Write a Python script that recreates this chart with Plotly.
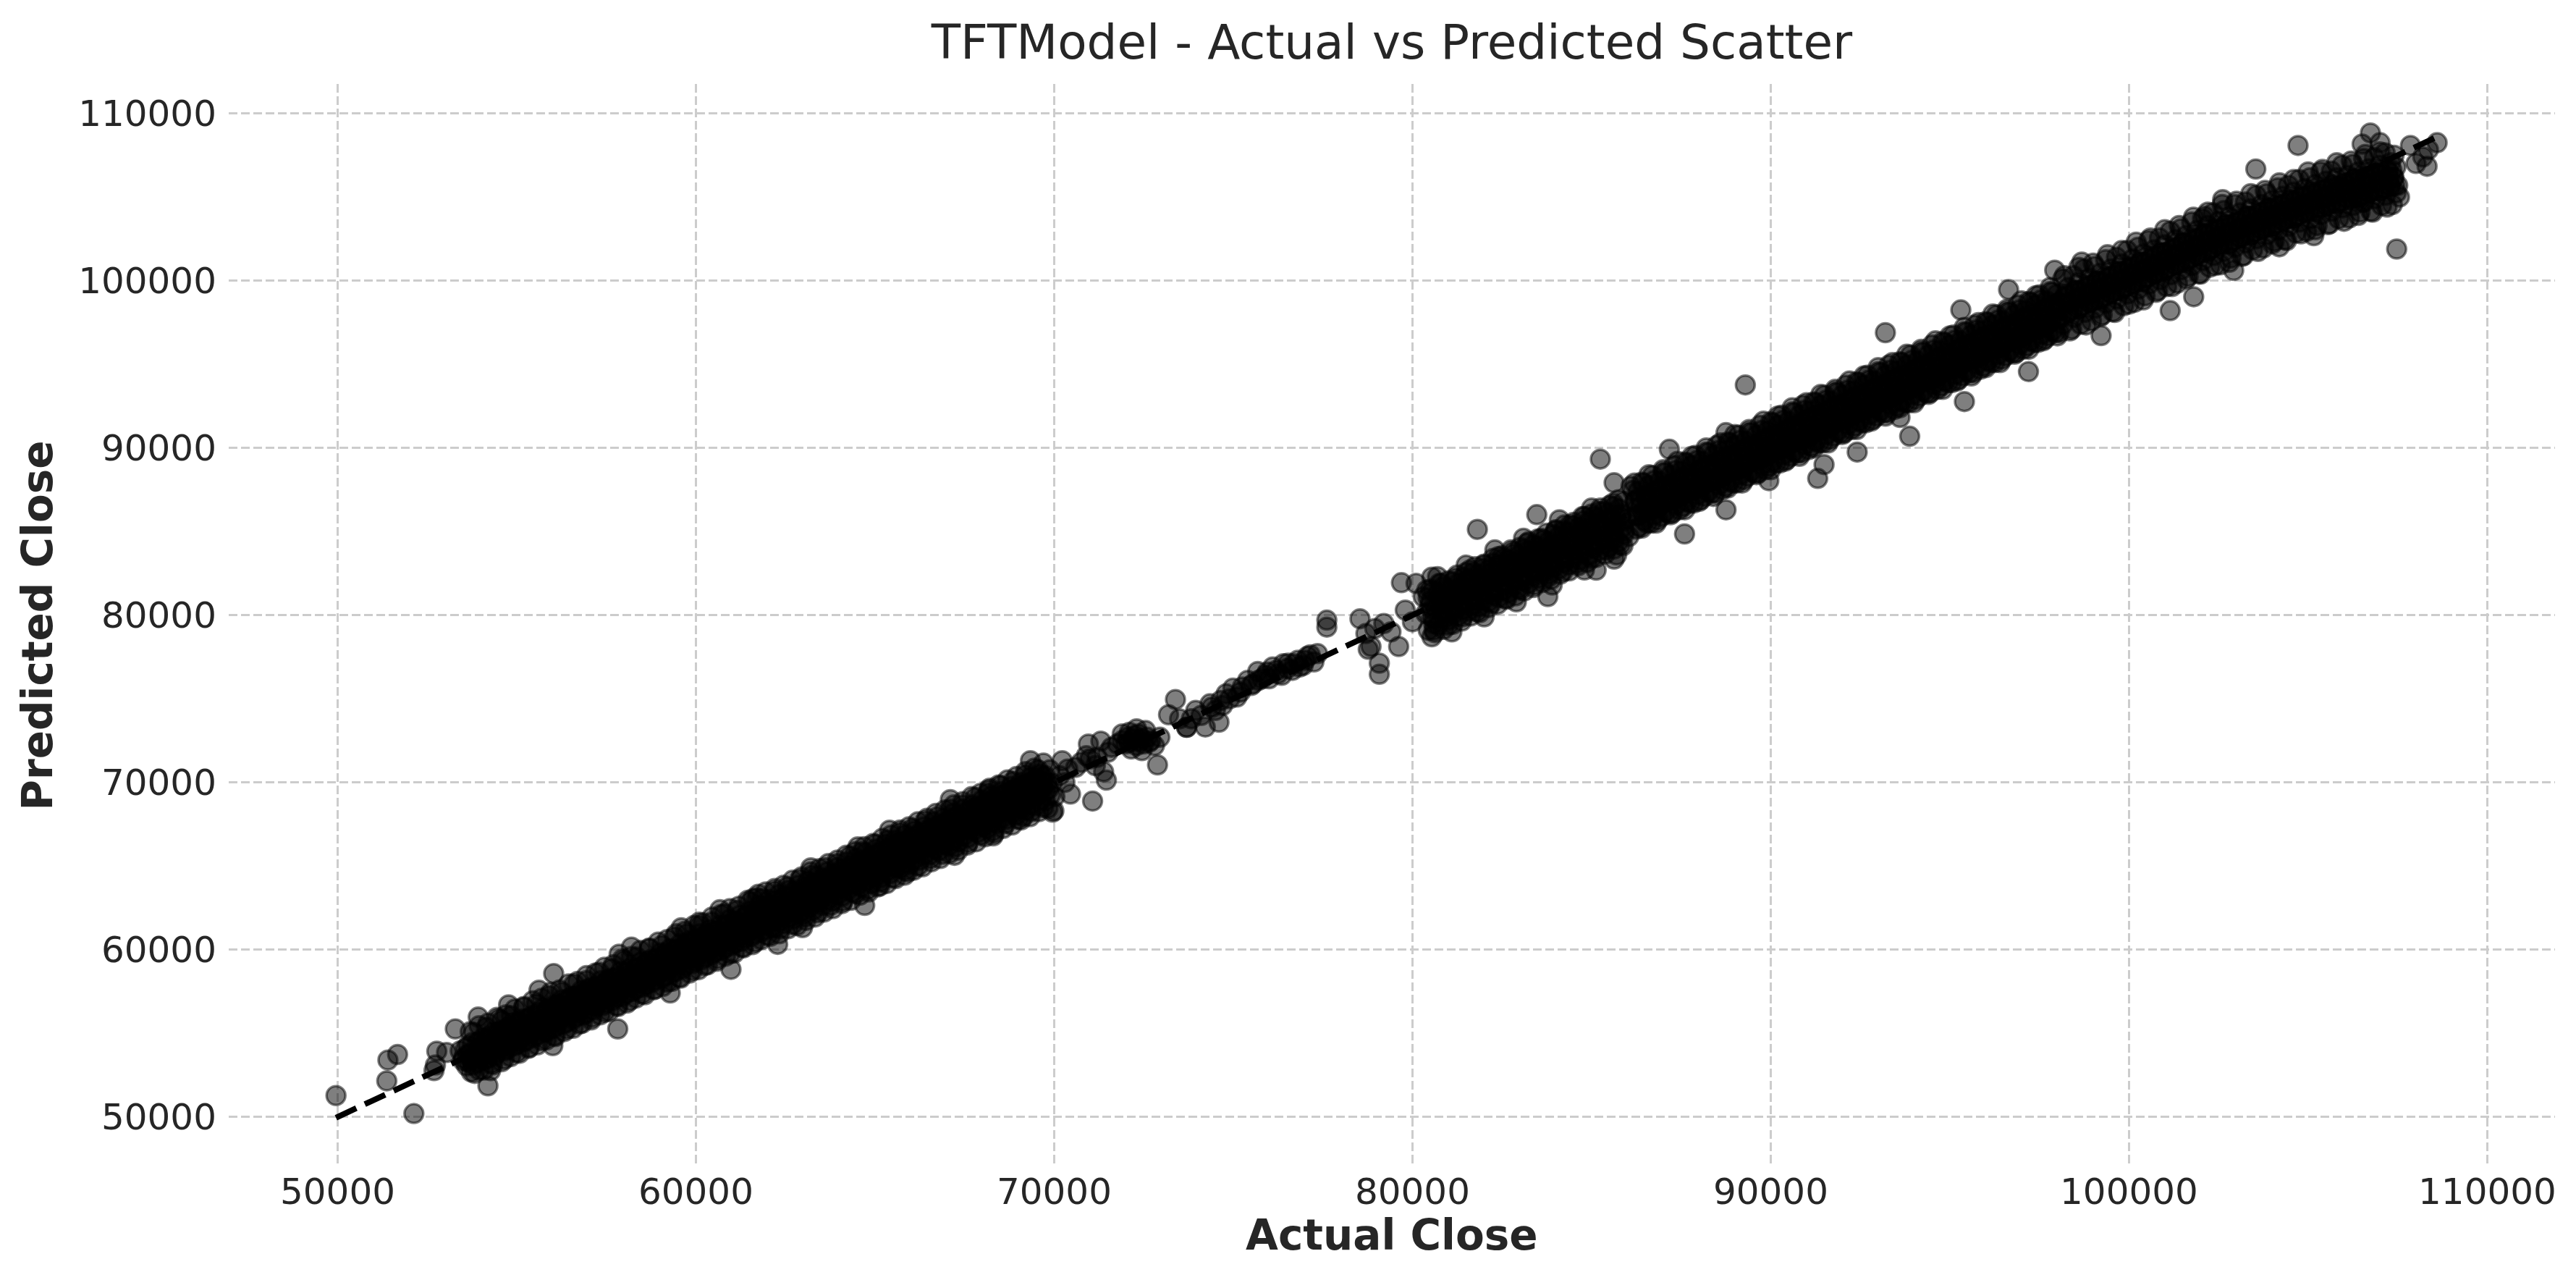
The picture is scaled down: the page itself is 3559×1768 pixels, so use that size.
import plotly.graph_objects as go

# values (Actual Close vs Predicted Close)

# dense band, 53k - 62k
actual_a = [
    53420, 53510, 53600, 53760, 53840, 53910, 54050, 54120, 54190,
    54330, 54400, 54470, 54600, 54680, 54740, 54880, 54950, 55020,
    55150, 55220, 55290, 55420, 55490, 55560, 55700, 55770, 55840,
    55980, 56050, 56110, 56250, 56320, 56390, 56530, 56600, 56660,
    56800, 56880, 56940, 57080, 57150, 57220, 57350, 57430, 57490,
    57630, 57700, 57770, 57900, 57980, 58040, 58180, 58260, 58320,
    58460, 58530, 58600, 58730, 58810, 58870, 59010, 59090, 59150,
    59280, 59360, 59430, 59560, 59640, 59700, 59840, 59910, 59980,
    60110, 60190, 60260, 60390, 60470, 60530, 60670, 60740, 60810,
    60940, 61020, 61090, 61220, 61300, 61360, 61500, 61570, 61640,
    61770, 61850, 61910]
predicted_a = [
    53950, 53500, 53050, 54450, 53700, 53250, 54700, 54150, 53500,
    55050, 54300, 53850, 55200, 54750, 54050, 55600, 54900, 54350,
    55850, 55300, 54600, 56050, 55450, 54900, 56450, 55800, 55100,
    56650, 56000, 55450, 57000, 56400, 55650, 57200, 56550, 56000,
    57550, 56950, 56200, 57750, 57100, 56600, 58150, 57500, 56800,
    58300, 57700, 57150, 58700, 58050, 57350, 58900, 58250, 57650,
    59250, 58600, 57900, 59400, 58850, 58200, 59800, 59100, 58450,
    60050, 59450, 58700, 60350, 59650, 59050, 60550, 60000, 59300,
    60950, 60250, 59550, 61200, 60550, 59850, 61450, 60850, 60100,
    61800, 61100, 60400, 62050, 61400, 60700, 62300, 61650, 60950,
    62650, 61950, 61200]
actual_a2 = [
    53640, 53690, 53740, 53780, 53950, 54000, 54050, 54090,
    54240, 54290, 54340, 54380, 54520, 54570, 54620, 54660,
    54790, 54840, 54890, 54930, 55060, 55110, 55160, 55200,
    55340, 55390, 55440, 55480, 55610, 55660, 55710, 55750,
    55890, 55940, 55990, 56030, 56160, 56210, 56260, 56300,
    56440, 56490, 56540, 56580, 56710, 56760, 56810, 56850,
    56990, 57040, 57090, 57130, 57260, 57310, 57360, 57400,
    57540, 57590, 57640, 57680, 57810, 57860, 57910, 57950,
    58090, 58140, 58190, 58230, 58370, 58420, 58470, 58510,
    58640, 58690, 58740, 58780, 58920, 58970, 59020, 59060,
    59190, 59240, 59290, 59330, 59470, 59520, 59570, 59610,
    59750, 59800, 59850, 59890, 60020, 60070, 60120, 60160,
    60300, 60350, 60400, 60440, 60580, 60630, 60680, 60720,
    60850, 60900, 60950, 60990, 61130, 61180, 61230, 61270,
    61410, 61460, 61510, 61550, 61680, 61730, 61780, 61820,
    61960, 62010, 62060, 62100]
predicted_a2 = [
    54250, 53800, 53450, 53100, 54500, 54150, 53750, 53400,
    54850, 54400, 54100, 53650, 55100, 54750, 54350, 53950,
    55400, 54950, 54600, 54250, 55700, 55250, 54850, 54500,
    55900, 55550, 55200, 54750, 56250, 55800, 55450, 55050,
    56500, 56100, 55700, 55300, 56750, 56350, 56000, 55550,
    57050, 56650, 56250, 55850, 57300, 56900, 56550, 56100,
    57650, 57200, 56800, 56400, 57850, 57450, 57100, 56650,
    58200, 57750, 57350, 56950, 58400, 58000, 57650, 57200,
    58700, 58300, 57900, 57500, 58950, 58550, 58200, 57750,
    59300, 58850, 58450, 58050, 59500, 59100, 58750, 58300,
    59850, 59400, 59000, 58600, 60050, 59650, 59300, 58850,
    60400, 59950, 59550, 59150, 60600, 60200, 59850, 59400,
    60950, 60500, 60100, 59700, 61150, 60750, 60400, 59950,
    61500, 61050, 60650, 60250, 61700, 61300, 60950, 60500,
    62050, 61600, 61200, 60800, 62250, 61850, 61500, 61050,
    62600, 62150, 61750, 61350]
# ragged upper / lower edge of the same stretch
actual_a3 = [
    53800, 54150, 54500, 54850, 55200, 55550, 55900, 56250, 56600, 56950,
    57300, 57650, 58000, 58350, 58700, 59050, 59400, 59750, 60100, 60450,
    60800, 61150, 61500, 61850,
    53950, 54300, 54650, 55000, 55350, 55700, 56050, 56400, 56750, 57100,
    57450, 57800, 58150, 58500, 58850, 59200, 59550, 59900, 60250, 60600,
    60950, 61300, 61650, 62000]
predicted_a3 = [
    55050, 55350, 55850, 56050, 56550, 56750, 57250, 57450, 57950, 58150,
    58650, 58850, 59350, 59550, 60050, 60250, 60750, 60950, 61450, 61650,
    62150, 62350, 62850, 63050,
    52800, 53200, 53450, 53850, 54150, 54550, 54850, 55250, 55550, 55950,
    56250, 56650, 56950, 57350, 57650, 58050, 58350, 58750, 59050, 59450,
    59750, 60150, 60450, 60850]
# middle of the same stretch
actual_a4 = [
    53570, 53610, 53650, 53900, 53940, 53980, 54190, 54230, 54270,
    54460, 54500, 54540, 54740, 54780, 54820, 55010, 55050, 55090,
    55290, 55330, 55370, 55560, 55600, 55640, 55840, 55880, 55920,
    56110, 56150, 56190, 56390, 56430, 56470, 56660, 56700, 56740,
    56940, 56980, 57020, 57210, 57250, 57290, 57490, 57530, 57570,
    57760, 57800, 57840, 58040, 58080, 58120, 58310, 58350, 58390,
    58590, 58630, 58670, 58860, 58900, 58940, 59140, 59180, 59220,
    59410, 59450, 59490, 59690, 59730, 59770, 59960, 60000, 60040,
    60240, 60280, 60320, 60510, 60550, 60590, 60790, 60830, 60870,
    61060, 61100, 61140, 61340, 61380, 61420, 61610, 61650, 61690,
    61890, 61930, 61970]
predicted_a4 = [
    54100, 53700, 53300, 54450, 54050, 53600, 54700, 54350, 53900,
    55050, 54600, 54150, 55300, 54850, 54450, 55550, 55150, 54700,
    55850, 55400, 55000, 56100, 55700, 55250, 56400, 55950, 55550,
    56650, 56250, 55800, 56950, 56500, 56100, 57200, 56800, 56350,
    57500, 57050, 56650, 57750, 57350, 56900, 58050, 57600, 57200,
    58300, 57900, 57450, 58600, 58150, 57750, 58850, 58450, 58000,
    59150, 58700, 58300, 59400, 59000, 58550, 59700, 59250, 58850,
    59950, 59550, 59100, 60250, 59800, 59400, 60500, 60100, 59650,
    60800, 60350, 59950, 61050, 60650, 60200, 61350, 60900, 60500,
    61600, 61200, 60750, 61900, 61450, 61050, 62150, 61750, 61300,
    62450, 62000, 61600]
# shoulders of the same stretch (upper row, then lower row)
actual_a5 = [
    53700, 53950, 54200, 54450, 54700, 54950, 55200, 55450, 55700, 55950,
    56200, 56450, 56700, 56950, 57200, 57450, 57700, 57950, 58200, 58450,
    58700, 58950, 59200, 59450, 59700, 59950, 60200, 60450, 60700, 60950,
    61200, 61450, 61700, 61950,
    53825, 54075, 54325, 54575, 54825, 55075, 55325, 55575, 55825, 56075,
    56325, 56575, 56825, 57075, 57325, 57575, 57825, 58075, 58325, 58575,
    58825, 59075, 59325, 59575, 59825, 60075, 60325, 60575, 60825, 61075,
    61325, 61575, 61825, 62075]
predicted_a5 = [
    55100, 55450, 55600, 55950, 56100, 56450, 56600, 56950, 57100, 57450,
    57600, 57950, 58100, 58450, 58600, 58950, 59100, 59450, 59600, 59950,
    60100, 60450, 60600, 60950, 61100, 61450, 61600, 61950, 62100, 62450,
    62600, 62950, 63100, 63450,
    52600, 52800, 53100, 53300, 53600, 53800, 54100, 54300, 54600, 54800,
    55100, 55300, 55600, 55800, 56100, 56300, 56600, 56800, 57100, 57300,
    57600, 57800, 58100, 58300, 58600, 58800, 59100, 59300, 59600, 59800,
    60100, 60300, 60600, 60800]

# dense band, 62k - 70k
actual_b = [
    62050, 62120, 62190, 62320, 62390, 62460, 62590, 62660, 62730,
    62860, 62930, 63000, 63130, 63200, 63270, 63400, 63470, 63540,
    63670, 63740, 63810, 63940, 64010, 64080, 64210, 64280, 64350,
    64480, 64550, 64620, 64750, 64820, 64890, 65020, 65090, 65160,
    65290, 65360, 65430, 65560, 65630, 65700, 65830, 65900, 65970,
    66100, 66170, 66240, 66370, 66440, 66510, 66640, 66710, 66780,
    66910, 66980, 67050, 67180, 67250, 67320, 67450, 67520, 67590,
    67720, 67790, 67860, 67990, 68060, 68130, 68260, 68330, 68400,
    68530, 68600, 68670, 68800, 68870, 68940, 69070, 69140, 69210,
    69340, 69410, 69480, 69610, 69680, 69750, 69880, 69950, 70020]
predicted_b = [
    63000, 62200, 61300, 63300, 62450, 61550, 63550, 62750, 61850,
    63850, 62950, 62100, 64100, 63300, 62350, 64400, 63550, 62650,
    64650, 63800, 62900, 64900, 64150, 63200, 65250, 64350, 63450,
    65450, 64700, 63750, 65800, 64900, 63950, 66000, 65250, 64300,
    66300, 65450, 64550, 66550, 65750, 64850, 66850, 66000, 65100,
    67100, 66300, 65350, 67350, 66500, 65650, 67650, 66850, 65900,
    67850, 67050, 66200, 68150, 67350, 66450, 68400, 67550, 66700,
    68650, 67850, 67000, 68950, 68100, 67250, 69200, 68350, 67550,
    69450, 68650, 67800, 69750, 68900, 68050, 70000, 69200, 68350,
    70300, 69450, 68600, 70500, 69700, 68900, 70750, 69950, 69150]
actual_b2 = [
    62185, 62235, 62285, 62335, 62455, 62505, 62555, 62605,
    62725, 62775, 62825, 62875, 62995, 63045, 63095, 63145,
    63265, 63315, 63365, 63415, 63535, 63585, 63635, 63685,
    63805, 63855, 63905, 63955, 64075, 64125, 64175, 64225,
    64345, 64395, 64445, 64495, 64615, 64665, 64715, 64765,
    64885, 64935, 64985, 65035, 65155, 65205, 65255, 65305,
    65425, 65475, 65525, 65575, 65695, 65745, 65795, 65845,
    65965, 66015, 66065, 66115, 66235, 66285, 66335, 66385,
    66505, 66555, 66605, 66655, 66775, 66825, 66875, 66925,
    67045, 67095, 67145, 67195, 67315, 67365, 67415, 67465,
    67585, 67635, 67685, 67735, 67855, 67905, 67955, 68005,
    68125, 68175, 68225, 68275, 68395, 68445, 68495, 68545,
    68665, 68715, 68765, 68815, 68935, 68985, 69035, 69085,
    69205, 69255, 69305, 69355, 69475, 69525, 69575, 69625,
    69745, 69795, 69845, 69895]
predicted_b2 = [
    62900, 62500, 62050, 61700, 63150, 62750, 62300, 61950,
    63450, 63000, 62600, 62200, 63700, 63300, 62850, 62500,
    63950, 63550, 63100, 62800, 64250, 63850, 63400, 63000,
    64500, 64100, 63650, 63300, 64800, 64350, 63950, 63550,
    65050, 64650, 64200, 63850, 65300, 64900, 64450, 64150,
    65600, 65200, 64750, 64400, 65850, 65450, 65000, 64650,
    66150, 65700, 65300, 64900, 66400, 66000, 65550, 65200,
    66650, 66250, 65800, 65450, 66950, 66550, 66100, 65700,
    67200, 66800, 66350, 66000, 67450, 67050, 66650, 66300,
    67750, 67350, 66900, 66550, 68000, 67600, 67150, 66800,
    68300, 67850, 67450, 67100, 68550, 68150, 67700, 67350,
    68800, 68400, 67950, 67650, 69100, 68700, 68250, 67900,
    69350, 68950, 68500, 68150, 69650, 69200, 68800, 68450,
    69900, 69500, 69050, 68700, 70150, 69750, 69300, 68950,
    70400, 70000, 69600, 69250]
actual_b3 = [
    62200, 62550, 62900, 63250, 63600, 63950, 64300, 64650, 65000, 65350, 65700,
    66050, 66400, 66750, 67100, 67450, 67800, 68150, 68500, 68850, 69200, 69550,
    62350, 62700, 63050, 63400, 63750, 64100, 64450, 64800, 65150, 65500, 65850,
    66200, 66550, 66900, 67250, 67600, 67950, 68300, 68650, 69000, 69350, 69700]
predicted_b3 = [
    63500, 63750, 64200, 64450, 64900, 65150, 65600, 65850, 66300, 66550, 67000,
    67250, 67700, 67950, 68400, 68650, 69100, 69350, 69800, 70050, 70450, 70750,
    61250, 61500, 61950, 62200, 62650, 62900, 63350, 63600, 64050, 64300, 64750,
    65000, 65450, 65700, 66150, 66400, 66850, 67100, 67550, 67800, 68250, 68500]
actual_b4 = [
    62120, 62160, 62200, 62390, 62430, 62470, 62660, 62700, 62740,
    62930, 62970, 63010, 63200, 63240, 63280, 63470, 63510, 63550,
    63740, 63780, 63820, 64010, 64050, 64090, 64280, 64320, 64360,
    64550, 64590, 64630, 64820, 64860, 64900, 65090, 65130, 65170,
    65360, 65400, 65440, 65630, 65670, 65710, 65900, 65940, 65980,
    66170, 66210, 66250, 66440, 66480, 66520, 66710, 66750, 66790,
    66980, 67020, 67060, 67250, 67290, 67330, 67520, 67560, 67600,
    67790, 67830, 67870, 68060, 68100, 68140, 68330, 68370, 68410,
    68600, 68640, 68680, 68870, 68910, 68950, 69140, 69180, 69220,
    69410, 69450, 69490, 69680, 69720, 69760]
predicted_b4 = [
    62650, 62250, 61750, 62950, 62500, 62050, 63200, 62800, 62300,
    63500, 63050, 62600, 63750, 63350, 62850, 64050, 63600, 63150,
    64300, 63900, 63400, 64600, 64150, 63700, 64850, 64450, 63950,
    65150, 64700, 64250, 65400, 65000, 64500, 65700, 65250, 64800,
    65950, 65550, 65050, 66250, 65800, 65350, 66500, 66100, 65600,
    66800, 66350, 65900, 67050, 66650, 66150, 67350, 66900, 66450,
    67600, 67200, 66700, 67900, 67450, 67000, 68150, 67750, 67250,
    68450, 68000, 67550, 68700, 68300, 67800, 69000, 68550, 68100,
    69250, 68850, 68350, 69550, 69100, 68650, 69800, 69400, 68900,
    70100, 69650, 69200, 70350, 69950, 69450]
actual_b5 = [
    62200, 62450, 62700, 62950, 63200, 63450, 63700, 63950, 64200, 64450,
    64700, 64950, 65200, 65450, 65700, 65950, 66200, 66450, 66700, 66950,
    67200, 67450, 67700, 67950, 68200, 68450, 68700, 68950, 69200, 69450,
    69700,
    62325, 62575, 62825, 63075, 63325, 63575, 63825, 64075, 64325, 64575,
    64825, 65075, 65325, 65575, 65825, 66075, 66325, 66575, 66825, 67075,
    67325, 67575, 67825, 68075, 68325, 68575, 68825, 69075, 69325, 69575,
    69825]
predicted_b5 = [
    63650, 63850, 64150, 64350, 64650, 64850, 65150, 65350, 65650, 65850,
    66150, 66350, 66650, 66850, 67150, 67350, 67650, 67850, 68150, 68350,
    68650, 68850, 69150, 69350, 69650, 69850, 70150, 70350, 70650, 70850,
    71150,
    60950, 61250, 61450, 61750, 61950, 62250, 62450, 62750, 62950, 63250,
    63450, 63750, 63950, 64250, 64450, 64750, 64950, 65250, 65450, 65750,
    65950, 66250, 66450, 66750, 66950, 67250, 67450, 67750, 67950, 68250,
    68450]

# sparse clusters, 70k - 73.7k
actual_c = [
    69992, 70224, 70378, 70455, 70150, 70300, 70600, 70750, 70900,
    70956, 71072, 71303, 71380, 71457, 71200, 71600, 71766, 71900,
    72000, 72150, 72250, 72380, 72450, 72550, 72700, 72800, 72884,
    72950, 73192, 73385, 73693, 69337, 71900, 72050, 72100, 72200,
    72300, 72350, 72450, 72500, 72600, 72650, 72100, 72300, 71000,
    71150, 71500]
predicted_c = [
    68303, 71298, 70799, 69301, 70400, 70000, 70900, 71200, 71600,
    72296, 68885, 72463, 70632, 70133, 71500, 72100, 72300, 72900,
    72300, 72000, 72800, 72463, 71900, 73100, 72500, 72200, 71048,
    72700, 74044, 74959, 73295, 71298, 72500, 72700, 72400, 72600,
    72200, 72900, 72600, 72300, 72700, 72400, 73000, 73200, 71400,
    71000, 71800]

# thin trail, 73.5k - 77.6k
actual_d = [
    73500, 73700, 73832, 73950, 74100, 74218, 74350, 74500, 74600,
    74650, 74800, 74989, 75100, 75250, 75400, 75550, 75682, 75800,
    75950, 76100, 76250, 76400, 76530, 76650, 76800, 76950, 77070,
    77147, 77250, 77350, 77610, 77610, 75500, 75700, 75900, 76000,
    76200, 76350, 76500, 76700, 76850, 77000, 74400, 74700, 74900,
    75200]
predicted_d = [
    73800, 73300, 73808, 74300, 74000, 73310, 74700, 74300, 73600,
    74900, 75300, 75634, 75100, 75700, 76100, 75900, 76630, 76200,
    76600, 76900, 76500, 77100, 77128, 76700, 77300, 77000, 77543,
    77626, 77200, 77700, 79286, 79701, 75800, 76100, 76400, 76200,
    76700, 76400, 76800, 77100, 76900, 77300, 74500, 74600, 75000,
    75400]

# restart of the band, 78.5k - 86k
actual_e = [
    78535, 78843, 79075, 79075, 78766, 78700, 78950, 79200, 79400,
    79615, 79692, 79800, 80100, 80540, 80540, 80000,
    80300, 80370, 80440, 80580, 80650, 80720, 80860, 80930, 81000,
    81140, 81210, 81280, 81420, 81490, 81560, 81700, 81770, 81840,
    81980, 82050, 82120, 82260, 82330, 82400, 82540, 82610, 82680,
    82820, 82890, 82960, 83100, 83170, 83240, 83380, 83450, 83520,
    83660, 83730, 83800, 83940, 84010, 84080, 84220, 84290, 84360,
    84500, 84570, 84640, 84780, 84850, 84920, 85060, 85130, 85200,
    85340, 85410, 85480, 85620, 85690, 85760, 85900, 85970, 86040]
predicted_e = [
    79784, 78124, 77128, 76464, 77958, 78900, 79200, 79500, 79000,
    78124, 81942, 80300, 81900, 82274, 78705, 79600,
    81100, 80100, 79100, 81450, 80400, 79400, 81700, 80650, 79700,
    82000, 80950, 79950, 82250, 81250, 80250, 82550, 81500, 80500,
    82800, 81800, 80800, 83100, 82100, 81050, 83400, 82350, 81350,
    83650, 82650, 81600, 83950, 82900, 81900, 84200, 83200, 82200,
    84500, 83450, 82450, 84800, 83750, 82750, 85050, 84050, 83000,
    85350, 84300, 83300, 85650, 84600, 83550, 85900, 84850, 83850,
    86200, 85150, 84100, 86500, 85450, 84400, 86800, 85750, 84700]
actual_e2 = [
    80440, 80490, 80540, 80590, 80720, 80770, 80820, 80870,
    81000, 81050, 81100, 81150, 81280, 81330, 81380, 81430,
    81560, 81610, 81660, 81710, 81840, 81890, 81940, 81990,
    82120, 82170, 82220, 82270, 82400, 82450, 82500, 82550,
    82680, 82730, 82780, 82830, 82960, 83010, 83060, 83110,
    83240, 83290, 83340, 83390, 83520, 83570, 83620, 83670,
    83800, 83850, 83900, 83950, 84080, 84130, 84180, 84230,
    84360, 84410, 84460, 84510, 84640, 84690, 84740, 84790,
    84920, 84970, 85020, 85070, 85200, 85250, 85300, 85350,
    85480, 85530, 85580, 85630, 85760, 85810, 85860, 85910]
predicted_e2 = [
    81050, 80600, 79900, 79500, 81300, 80850, 80250, 79800,
    81600, 81150, 80500, 80100, 81900, 81400, 80800, 80350,
    82150, 81700, 81050, 80650, 82450, 82000, 81350, 80950,
    82700, 82250, 81600, 81200, 83000, 82550, 81900, 81500,
    83300, 82800, 82200, 81800, 83550, 83100, 82450, 82050,
    83850, 83400, 82750, 82350, 84100, 83650, 83000, 82600,
    84400, 83950, 83300, 82900, 84700, 84250, 83600, 83150,
    84950, 84500, 83850, 83450, 85250, 84800, 84150, 83750,
    85550, 85050, 84400, 84000, 85800, 85350, 84700, 84300,
    86100, 85650, 85000, 84550, 86350, 85900, 85250, 84850]
actual_e3 = [
    80400, 80800, 81200, 81600, 82000, 82400, 82800, 83200, 83600, 84000,
    84400, 84800, 85200, 85600,
    80600, 81000, 81400, 81800, 82200, 82600, 83000, 83400, 83800, 84200,
    84600, 85000, 85400, 85800,
    80700, 81500, 82300, 83100, 84100, 85000,
    81100, 82000, 82900, 83900, 84800, 85700]
predicted_e3 = [
    81500, 81900, 82200, 82700, 83000, 83500, 83800, 84300, 84600, 85100,
    85400, 85900, 86200, 86700,
    79100, 79400, 79900, 80200, 80700, 81000, 81500, 81800, 82300, 82600,
    83100, 83400, 83900, 84200,
    82300, 83000, 83900, 84600, 85700, 86400,
    79000, 79900, 80800, 81800, 82700, 83600]
actual_e4 = [
    80510, 80550, 80590, 80790, 80830, 80870, 81070, 81110, 81150,
    81350, 81390, 81430, 81630, 81670, 81710, 81910, 81950, 81990,
    82190, 82230, 82270, 82470, 82510, 82550, 82750, 82790, 82830,
    83030, 83070, 83110, 83310, 83350, 83390, 83590, 83630, 83670,
    83870, 83910, 83950, 84150, 84190, 84230, 84430, 84470, 84510,
    84710, 84750, 84790, 84990, 85030, 85070, 85270, 85310, 85350,
    85550, 85590, 85630, 85830, 85870, 85910]
predicted_e4 = [
    80850, 80350, 79800, 81100, 80650, 80100, 81400, 80900, 80350,
    81650, 81200, 80650, 81950, 81450, 80900, 82200, 81750, 81200,
    82500, 82000, 81450, 82750, 82300, 81750, 83050, 82550, 82000,
    83300, 82850, 82300, 83600, 83100, 82550, 83850, 83400, 82850,
    84150, 83650, 83100, 84400, 83950, 83400, 84700, 84200, 83650,
    84950, 84500, 83950, 85250, 84750, 84200, 85500, 85050, 84500,
    85800, 85300, 84750, 86050, 85600, 85050]
actual_e5 = [
    80500, 80750, 81000, 81250, 81500, 81750, 82000, 82250, 82500, 82750,
    83000, 83250, 83500, 83750, 84000, 84250, 84500, 84750, 85000, 85250,
    85500, 85750,
    80625, 80875, 81125, 81375, 81625, 81875, 82125, 82375, 82625, 82875,
    83125, 83375, 83625, 83875, 84125, 84375, 84625, 84875, 85125, 85375,
    85625, 85875]
predicted_e5 = [
    81550, 81900, 82050, 82400, 82550, 82900, 83050, 83400, 83550, 83900,
    84050, 84400, 84550, 84900, 85050, 85400, 85550, 85900, 86050, 86400,
    86550, 86900,
    78950, 79150, 79450, 79650, 79950, 80150, 80450, 80650, 80950, 81150,
    81450, 81650, 81950, 82150, 82450, 82650, 82950, 83150, 83450, 83650,
    83950, 84150]

# dense band, 86k - 98k
actual_f = [
    86150, 86210, 86280, 86350, 86450, 86520, 86590, 86650,
    86750, 86800, 86880, 86950, 87050, 87110, 87180, 87250,
    87350, 87400, 87480, 87550, 87650, 87720, 87780, 87850,
    87950, 88010, 88080, 88150, 88250, 88300, 88380, 88450,
    88550, 88620, 88690, 88750, 88850, 88900, 88980, 89050,
    89150, 89210, 89280, 89350, 89450, 89520, 89580, 89650,
    89750, 89800, 89880, 89950, 90050, 90120, 90180, 90250,
    90350, 90400, 90480, 90550, 90650, 90710, 90780, 90850,
    90950, 91000, 91080, 91150, 91250, 91320, 91380, 91450,
    91550, 91600, 91680, 91750, 91850, 91910, 91980, 92050,
    92150, 92200, 92280, 92350, 92450, 92520, 92580, 92650,
    92750, 92800, 92880, 92950, 93050, 93110, 93180, 93250,
    93350, 93400, 93480, 93550, 93650, 93720, 93780, 93850,
    93950, 94000, 94080, 94150, 94250, 94310, 94380, 94450,
    94550, 94600, 94680, 94750, 94850, 94920, 94980, 95050,
    95150, 95200, 95280, 95350, 95450, 95510, 95580, 95650,
    95750, 95800, 95880, 95950, 96050, 96120, 96180, 96250,
    96350, 96400, 96480, 96550, 96650, 96710, 96780, 96850,
    96950, 97000, 97080, 97150, 97250, 97320, 97380, 97450,
    97550, 97600, 97680, 97750, 97850, 97910, 97980, 98050]
predicted_f = [
    87450, 86800, 85950, 85300, 87900, 87050, 86350, 85500,
    88050, 87400, 86500, 85900, 88500, 87650, 86950, 86100,
    88650, 88000, 87150, 86500, 89100, 88200, 87500, 86700,
    89250, 88650, 87750, 87100, 89700, 88800, 88100, 87300,
    89850, 89200, 88350, 87700, 90300, 89400, 88700, 87900,
    90450, 89850, 88900, 88300, 90900, 90000, 89350, 88500,
    91050, 90400, 89500, 88900, 91500, 90650, 89900, 89100,
    91650, 91000, 90150, 89500, 92100, 91200, 90500, 89700,
    92250, 91650, 90700, 90100, 92700, 91800, 91150, 90300,
    92850, 92200, 91300, 90700, 93300, 92450, 91700, 90900,
    93450, 92800, 91950, 91300, 93900, 93000, 92300, 91500,
    94050, 93450, 92500, 91900, 94500, 93600, 92950, 92100,
    94650, 94000, 93100, 92500, 95100, 94250, 93500, 92700,
    95250, 94600, 93750, 93100, 95700, 94800, 94100, 93300,
    95850, 95250, 94300, 93700, 96300, 95400, 94750, 93900,
    96450, 95800, 94900, 94300, 96900, 96000, 95350, 94500,
    97050, 96400, 95550, 94900, 97500, 96600, 95950, 95100,
    97650, 97050, 96100, 95500, 98100, 97200, 96550, 95700,
    98250, 97650, 96700, 96100, 98700, 97800, 97150, 96300,
    98850, 98200, 97300, 96700, 99300, 98400, 97750, 96900]
actual_f2 = [
    86300, 86340, 86380, 86420, 86460, 86600, 86640, 86680, 86720, 86760,
    86900, 86940, 86980, 87020, 87060, 87200, 87240, 87280, 87320, 87360,
    87500, 87540, 87580, 87620, 87660, 87800, 87840, 87880, 87920, 87960,
    88100, 88140, 88180, 88220, 88260, 88400, 88440, 88480, 88520, 88560,
    88700, 88740, 88780, 88820, 88860, 89000, 89040, 89080, 89120, 89160,
    89300, 89340, 89380, 89420, 89460, 89600, 89640, 89680, 89720, 89760,
    89900, 89940, 89980, 90020, 90060, 90200, 90240, 90280, 90320, 90360,
    90500, 90540, 90580, 90620, 90660, 90800, 90840, 90880, 90920, 90960,
    91100, 91140, 91180, 91220, 91260, 91400, 91440, 91480, 91520, 91560,
    91700, 91740, 91780, 91820, 91860, 92000, 92040, 92080, 92120, 92160,
    92300, 92340, 92380, 92420, 92460, 92600, 92640, 92680, 92720, 92760,
    92900, 92940, 92980, 93020, 93060, 93200, 93240, 93280, 93320, 93360,
    93500, 93540, 93580, 93620, 93660, 93800, 93840, 93880, 93920, 93960,
    94100, 94140, 94180, 94220, 94260, 94400, 94440, 94480, 94520, 94560,
    94700, 94740, 94780, 94820, 94860, 95000, 95040, 95080, 95120, 95160,
    95300, 95340, 95380, 95420, 95460, 95600, 95640, 95680, 95720, 95760,
    95900, 95940, 95980, 96020, 96060, 96200, 96240, 96280, 96320, 96360,
    96500, 96540, 96580, 96620, 96660, 96800, 96840, 96880, 96920, 96960,
    97100, 97140, 97180, 97220, 97260, 97400, 97440, 97480, 97520, 97560,
    97700, 97740, 97780, 97820, 97860, 98000, 98040, 98080, 98120, 98160]
predicted_f2 = [
    87400, 87050, 86500, 86150, 85650, 87750, 87250, 86900, 86350, 86000,
    88000, 87650, 87100, 86750, 86200, 88350, 87850, 87500, 86950, 86600,
    88600, 88250, 87700, 87300, 86800, 88950, 88450, 88100, 87550, 87200,
    89200, 88850, 88300, 87950, 87400, 89550, 89050, 88700, 88150, 87800,
    89800, 89450, 88900, 88550, 88000, 90150, 89650, 89300, 88750, 88400,
    90400, 90050, 89500, 89150, 88600, 90750, 90250, 89900, 89350, 89000,
    91000, 90650, 90100, 89750, 89200, 91350, 90850, 90500, 89950, 89600,
    91600, 91250, 90700, 90350, 89800, 91950, 91450, 91100, 90550, 90200,
    92200, 91850, 91300, 90950, 90400, 92550, 92050, 91700, 91150, 90800,
    92800, 92450, 91900, 91550, 91000, 93150, 92650, 92300, 91750, 91400,
    93400, 93050, 92500, 92150, 91600, 93750, 93250, 92900, 92350, 92000,
    94000, 93650, 93100, 92750, 92200, 94350, 93850, 93500, 92950, 92600,
    94600, 94250, 93700, 93350, 92800, 94950, 94450, 94100, 93550, 93200,
    95200, 94850, 94300, 93950, 93400, 95550, 95050, 94700, 94150, 93800,
    95800, 95450, 94900, 94550, 94000, 96150, 95650, 95300, 94750, 94400,
    96400, 96050, 95500, 95150, 94600, 96750, 96250, 95900, 95350, 95000,
    97000, 96650, 96100, 95750, 95200, 97350, 96850, 96500, 95950, 95600,
    97600, 97250, 96700, 96350, 95800, 97950, 97450, 97100, 96550, 96200,
    98200, 97850, 97300, 96950, 96400, 98550, 98050, 97700, 97150, 96800,
    98800, 98450, 97900, 97550, 97000, 99200, 98700, 98300, 97800, 97400]
actual_f3 = [
    86200, 86600, 87000, 87400, 87800, 88200, 88600, 89000, 89400, 89800,
    90200, 90600, 91000, 91400, 91800, 92200, 92600, 93000, 93400, 93800,
    94200, 94600, 95000, 95400, 95800, 96200, 96600, 97000, 97400, 97800,
    86400, 86800, 87200, 87600, 88000, 88400, 88800, 89200, 89600, 90000,
    90400, 90800, 91200, 91600, 92000, 92400, 92800, 93200, 93600, 94000,
    94400, 94800, 95200, 95600, 96000, 96400, 96800, 97200, 97600, 98000]
predicted_f3 = [
    87900, 88400, 88700, 89200, 89500, 90000, 90300, 90800, 91100, 91600,
    91900, 92400, 92700, 93200, 93500, 94000, 94300, 94800, 95100, 95600,
    95900, 96400, 96700, 97200, 97500, 98000, 98300, 98800, 99100, 99600,
    85200, 85500, 86000, 86300, 86800, 87100, 87600, 87900, 88400, 88700,
    89200, 89500, 90000, 90300, 90800, 91100, 91600, 91900, 92400, 92700,
    93200, 93500, 94000, 94300, 94800, 95100, 95600, 95900, 96400, 96700]
actual_f4 = [
    86225, 86265, 86305, 86525, 86565, 86605, 86825, 86865, 86905,
    87125, 87165, 87205, 87425, 87465, 87505, 87725, 87765, 87805,
    88025, 88065, 88105, 88325, 88365, 88405, 88625, 88665, 88705,
    88925, 88965, 89005, 89225, 89265, 89305, 89525, 89565, 89605,
    89825, 89865, 89905, 90125, 90165, 90205, 90425, 90465, 90505,
    90725, 90765, 90805, 91025, 91065, 91105, 91325, 91365, 91405,
    91625, 91665, 91705, 91925, 91965, 92005, 92225, 92265, 92305,
    92525, 92565, 92605, 92825, 92865, 92905, 93125, 93165, 93205,
    93425, 93465, 93505, 93725, 93765, 93805, 94025, 94065, 94105,
    94325, 94365, 94405, 94625, 94665, 94705, 94925, 94965, 95005,
    95225, 95265, 95305, 95525, 95565, 95605, 95825, 95865, 95905,
    96125, 96165, 96205, 96425, 96465, 96505, 96725, 96765, 96805,
    97025, 97065, 97105, 97325, 97365, 97405, 97625, 97665, 97705,
    97925, 97965, 98005]
predicted_f4 = [
    86850, 86400, 85950, 87200, 86700, 86250, 87450, 87000, 86550,
    87800, 87300, 86850, 88050, 87600, 87150, 88400, 87900, 87450,
    88650, 88200, 87750, 89000, 88500, 88050, 89250, 88800, 88350,
    89600, 89100, 88650, 89850, 89400, 88950, 90200, 89700, 89250,
    90450, 90000, 89550, 90800, 90300, 89850, 91050, 90600, 90150,
    91400, 90900, 90450, 91650, 91200, 90750, 92000, 91500, 91050,
    92250, 91800, 91350, 92600, 92100, 91650, 92850, 92400, 91950,
    93200, 92700, 92250, 93450, 93000, 92550, 93800, 93300, 92850,
    94050, 93600, 93150, 94400, 93900, 93450, 94650, 94200, 93750,
    95000, 94500, 94050, 95250, 94800, 94350, 95600, 95100, 94650,
    95850, 95400, 94950, 96200, 95700, 95250, 96450, 96000, 95550,
    96800, 96300, 95850, 97050, 96600, 96150, 97400, 96900, 96450,
    97650, 97200, 96750, 98000, 97500, 97050, 98250, 97800, 97350,
    98600, 98100, 97650]
actual_f5 = [
    86100, 86400, 86700, 87000, 87300, 87600, 87900, 88200, 88500, 88800,
    89100, 89400, 89700, 90000, 90300, 90600, 90900, 91200, 91500, 91800,
    92100, 92400, 92700, 93000, 93300, 93600, 93900, 94200, 94500, 94800,
    95100, 95400, 95700, 96000, 96300, 96600, 96900, 97200, 97500, 97800,
    86250, 86550, 86850, 87150, 87450, 87750, 88050, 88350, 88650, 88950,
    89250, 89550, 89850, 90150, 90450, 90750, 91050, 91350, 91650, 91950,
    92250, 92550, 92850, 93150, 93450, 93750, 94050, 94350, 94650, 94950,
    95250, 95550, 95850, 96150, 96450, 96750, 97050, 97350, 97650, 97950]
predicted_f5 = [
    87700, 87950, 88350, 88550, 88950, 89150, 89550, 89750, 90150, 90350,
    90750, 90950, 91350, 91550, 91950, 92150, 92550, 92750, 93150, 93350,
    93750, 93950, 94350, 94550, 94950, 95150, 95550, 95750, 96150, 96350,
    96750, 96950, 97350, 97550, 97950, 98150, 98550, 98750, 99150, 99350,
    85150, 85500, 85700, 86100, 86300, 86700, 86900, 87300, 87500, 87900,
    88100, 88500, 88700, 89100, 89300, 89700, 89900, 90300, 90500, 90900,
    91100, 91500, 91700, 92100, 92300, 92700, 92900, 93300, 93500, 93900,
    94100, 94500, 94700, 95100, 95300, 95700, 95900, 96300, 96500, 96900]

# dense band, 98k - 107.5k
actual_g = [
    98150, 98210, 98280, 98350, 98450, 98500, 98580, 98650,
    98750, 98820, 98880, 98950, 99050, 99100, 99180, 99250,
    99350, 99420, 99480, 99550, 99650, 99700, 99780, 99850,
    99950, 100020, 100080, 100150, 100250, 100300, 100380, 100450,
    100550, 100620, 100680, 100750, 100850, 100900, 100980, 101050,
    101150, 101220, 101280, 101350, 101450, 101500, 101580, 101650,
    101750, 101820, 101880, 101950, 102050, 102100, 102180, 102250,
    102350, 102420, 102480, 102550, 102650, 102700, 102780, 102850,
    102950, 103020, 103080, 103150, 103250, 103300, 103380, 103450,
    103550, 103620, 103680, 103750, 103850, 103900, 103980, 104050,
    104150, 104220, 104280, 104350, 104450, 104500, 104580, 104650,
    104750, 104820, 104880, 104950, 105050, 105100, 105180, 105250,
    105350, 105420, 105480, 105550, 105650, 105700, 105780, 105850,
    105950, 106020, 106080, 106150, 106250, 106300, 106380, 106450,
    106550, 106620, 106680, 106750, 106850, 106900, 106980, 107050,
    107150, 107220, 107280, 107350, 107400, 107450, 107500, 107550]
predicted_g = [
    100100, 99000, 98100, 97000, 100300, 99400, 98300, 97400,
    100700, 99550, 98700, 97600, 100850, 99950, 98850, 97950,
    101250, 100150, 99250, 98150, 101400, 100550, 99400, 98500,
    101800, 100700, 99800, 98700, 102000, 101100, 99950, 99100,
    102400, 101250, 100400, 99300, 102550, 101650, 100550, 99650,
    102950, 101850, 100950, 99850, 103100, 102250, 101100, 100250,
    103500, 102400, 101550, 100400, 103700, 102800, 101700, 100800,
    104050, 102950, 102100, 100950, 104200, 103350, 102200, 101350,
    104550, 103450, 102600, 101450, 104700, 103850, 102700, 101850,
    105100, 103950, 103100, 101950, 105200, 104350, 103200, 102350,
    105550, 104450, 103600, 102450, 105700, 104850, 103700, 102850,
    106050, 104950, 104100, 102950, 106150, 105350, 104150, 103300,
    106500, 105400, 104550, 103350, 106550, 105750, 104600, 103700,
    106900, 105750, 104950, 103750, 106950, 106100, 104950, 104100,
    107300, 106150, 105300, 104150, 107350, 106500, 105350, 104500,
    107650, 106550, 105700, 104550, 107500, 106800, 105700, 105000]
actual_g2 = [
    98300, 98340, 98380, 98420, 98460, 98600, 98640, 98680, 98720, 98760,
    98900, 98940, 98980, 99020, 99060, 99200, 99240, 99280, 99320, 99360,
    99500, 99540, 99580, 99620, 99660, 99800, 99840, 99880, 99920, 99960,
    100100, 100140, 100180, 100220, 100260, 100400, 100440, 100480, 100520, 100560,
    100700, 100740, 100780, 100820, 100860, 101000, 101040, 101080, 101120, 101160,
    101300, 101340, 101380, 101420, 101460, 101600, 101640, 101680, 101720, 101760,
    101900, 101940, 101980, 102020, 102060, 102200, 102240, 102280, 102320, 102360,
    102500, 102540, 102580, 102620, 102660, 102800, 102840, 102880, 102920, 102960,
    103100, 103140, 103180, 103220, 103260, 103400, 103440, 103480, 103520, 103560,
    103700, 103740, 103780, 103820, 103860, 104000, 104040, 104080, 104120, 104160,
    104300, 104340, 104380, 104420, 104460, 104600, 104640, 104680, 104720, 104760,
    104900, 104940, 104980, 105020, 105060, 105200, 105240, 105280, 105320, 105360,
    105500, 105540, 105580, 105620, 105660, 105800, 105840, 105880, 105920, 105960,
    106100, 106140, 106180, 106220, 106260, 106400, 106440, 106480, 106520, 106560,
    106700, 106740, 106780, 106820, 106860, 107000, 107040, 107080, 107120, 107160,
    107300, 107340, 107380, 107420, 107460]
predicted_g2 = [
    99600, 99150, 98700, 98250, 97800, 99900, 99400, 99000, 98500, 98100,
    100150, 99750, 99250, 98800, 98350, 100450, 99950, 99550, 99100, 98650,
    100700, 100300, 99800, 99400, 98900, 101000, 100550, 100100, 99650, 99200,
    101300, 100850, 100400, 99950, 99500, 101600, 101100, 100700, 100200, 99800,
    101850, 101450, 100950, 100500, 100050, 102150, 101700, 101250, 100800, 100350,
    102450, 102000, 101550, 101050, 100650, 102700, 102250, 101800, 101400, 100900,
    103000, 102550, 102100, 101650, 101200, 103300, 102850, 102400, 101950, 101500,
    103550, 103100, 102650, 102200, 101750, 103800, 103350, 102900, 102450, 102000,
    104050, 103600, 103150, 102700, 102250, 104300, 103850, 103400, 102950, 102500,
    104550, 104100, 103650, 103200, 102750, 104800, 104350, 103900, 103450, 103000,
    105050, 104600, 104150, 103700, 103250, 105300, 104800, 104400, 103900, 103500,
    105500, 105050, 104600, 104150, 103700, 105750, 105300, 104850, 104400, 103950,
    105950, 105500, 105050, 104600, 104150, 106150, 105650, 105250, 104750, 104350,
    106300, 105850, 105400, 104950, 104500, 106500, 106050, 105600, 105150, 104700,
    106700, 106250, 105800, 105350, 104900, 106900, 106450, 106000, 105550, 105100,
    107050, 106600, 106150, 105700, 105250]
actual_g3 = [
    98200, 98600, 99000, 99400, 99800, 100200, 100600, 101000, 101400, 101800,
    102200, 102600, 103000, 103400, 103800, 104200, 104600, 105000, 105400, 105800,
    106200, 106600, 107000,
    98400, 98800, 99200, 99600, 100000, 100400, 100800, 101200, 101600, 102000,
    102400, 102800, 103200, 103600, 104000, 104400, 104800, 105200, 105600, 106000,
    106400, 106800, 107200]
predicted_g3 = [
    100300, 100800, 101050, 101550, 101800, 102300, 102550, 103050, 103300, 103800,
    104100, 104550, 104750, 105200, 105400, 105850, 106050, 106500, 106650, 107050,
    107150, 107550, 107700,
    97100, 97350, 97850, 98100, 98600, 98850, 99400, 99650, 100100, 100400,
    100900, 101100, 101500, 101750, 102200, 102400, 102800, 103050, 103400, 103550,
    103900, 104100, 104400]
actual_g4 = [
    98225, 98265, 98305, 98525, 98565, 98605, 98825, 98865, 98905,
    99125, 99165, 99205, 99425, 99465, 99505, 99725, 99765, 99805,
    100025, 100065, 100105, 100325, 100365, 100405, 100625, 100665, 100705,
    100925, 100965, 101005, 101225, 101265, 101305, 101525, 101565, 101605,
    101825, 101865, 101905, 102125, 102165, 102205, 102425, 102465, 102505,
    102725, 102765, 102805, 103025, 103065, 103105, 103325, 103365, 103405,
    103625, 103665, 103705, 103925, 103965, 104005, 104225, 104265, 104305,
    104525, 104565, 104605, 104825, 104865, 104905, 105125, 105165, 105205,
    105425, 105465, 105505, 105725, 105765, 105805, 106025, 106065, 106105,
    106325, 106365, 106405, 106625, 106665, 106705, 106925, 106965, 107005,
    107225, 107265, 107305]
predicted_g4 = [
    99150, 98650, 98100, 99400, 98950, 98400, 99700, 99200, 98700,
    99950, 99500, 98950, 100250, 99800, 99250, 100550, 100050, 99550,
    100800, 100350, 99800, 101100, 100600, 100100, 101400, 100900, 100400,
    101650, 101200, 100700, 101950, 101500, 100950, 102250, 101750, 101250,
    102550, 102050, 101500, 102800, 102350, 101800, 103100, 102600, 102100,
    103350, 102850, 102300, 103550, 103100, 102550, 103850, 103350, 102800,
    104100, 103600, 103050, 104300, 103850, 103300, 104550, 104100, 103550,
    104800, 104300, 103800, 105050, 104550, 104050, 105250, 104800, 104300,
    105450, 105000, 104450, 105650, 105200, 104650, 105850, 105350, 104850,
    106050, 105550, 105050, 106250, 105750, 105250, 106400, 105950, 105450,
    106600, 106150, 105600]

# stray points away from the band
actual_out = [
    49954, 52128, 51372, 51403, 51673, 52730, 52690, 52768, 53040,
    53285, 53500, 53730, 53924, 54195, 54270, 54772, 54580, 55620,
    56030, 56006, 57818, 58203, 57857, 59283, 59591, 60092, 60670,
    60979, 61596, 61743, 62282, 62976, 63208, 64518, 64711, 65135,
    65405, 65906, 67101, 67217, 68180, 68296, 69144, 69954,
    81812, 83470, 85243, 85628, 85628, 83778, 85127,
    89291, 87170, 88751, 93200, 95305, 96639, 97926, 87594, 88751,
    89946, 91311, 91488, 92413, 93878, 95405, 97193, 93608,
    104718, 106738, 106507, 107008, 107471, 103539, 102614, 102113,
    101149, 101805, 102922, 104194, 105158, 106507, 107394, 99221,
    98682, 107856, 108357, 108319, 108010, 108200, 108600]
predicted_out = [
    51277, 50199, 52155, 53399, 53731, 53100, 52770, 53930, 53850,
    55256, 53350, 52690, 55969, 51857, 52770, 56698, 55750, 57577,
    58572, 54261, 55256, 60147, 59732, 57411, 61308, 61639, 62386,
    58821, 63049, 63310, 60316, 61314, 64892, 66140, 62645, 63810,
    67138, 64642, 68968, 65640, 69551, 66805, 67970, 68220,
    85129, 86009, 89329, 87918, 83353, 81112, 82689,
    93768, 89917, 90913, 96889, 98250, 99462, 100624, 84854, 86298,
    88041, 88174, 89004, 89751, 90697, 92772, 94565, 91826,
    108084, 108831, 108167, 108250, 101892, 106673, 104847, 103851,
    98207, 99037, 100614, 102025, 102689, 104681, 106175, 96713,
    101112, 108084, 107835, 106839, 107005, 107400, 108250]

tick_vals = [50000, 60000, 70000, 80000, 90000, 100000, 110000]

actual = (actual_a + actual_a2 + actual_a3 + actual_a4 + actual_a5
          + actual_b + actual_b2 + actual_b3 + actual_b4 + actual_b5
          + actual_c + actual_d
          + actual_e + actual_e2 + actual_e3 + actual_e4 + actual_e5
          + actual_f + actual_f2 + actual_f3 + actual_f4 + actual_f5
          + actual_g + actual_g2 + actual_g3 + actual_g4 + actual_out)
predicted = (predicted_a + predicted_a2 + predicted_a3 + predicted_a4 + predicted_a5
             + predicted_b + predicted_b2 + predicted_b3 + predicted_b4 + predicted_b5
             + predicted_c + predicted_d
             + predicted_e + predicted_e2 + predicted_e3 + predicted_e4 + predicted_e5
             + predicted_f + predicted_f2 + predicted_f3 + predicted_f4 + predicted_f5
             + predicted_g + predicted_g2 + predicted_g3 + predicted_g4 + predicted_out)

lo, hi = min(actual), max(actual)

text_col = "#262626"
font_name = "DejaVu Sans"

fig = go.Figure()

fig.add_trace(go.Scatter(
    x=actual, y=predicted, mode="markers",
    marker=dict(size=26, color="rgba(0,0,0,0.5)",
                line=dict(color="rgba(0,0,0,0.5)", width=3.5)),
    showlegend=False))

# perfect prediction line
fig.add_trace(go.Scatter(
    x=[lo, hi], y=[lo, hi], mode="lines",
    line=dict(color="black", width=8, dash="31px,13px"),
    showlegend=False))

axis_common = dict(
    tickvals=tick_vals, tickformat="d",
    showgrid=True, gridcolor="#cccccc", gridwidth=2.5, griddash="12px,5px",
    zeroline=False, showline=False, ticks="",
    tickfont=dict(family=font_name, size=50, color=text_col))

fig.update_xaxes(range=[46960, 111890], **axis_common)
fig.update_yaxes(range=[47000, 111760], ticklabelstandoff=16, **axis_common)

fig.update_layout(
    width=3559, height=1768,
    paper_bgcolor="white", plot_bgcolor="white",
    margin=dict(l=308, r=37, t=108, b=164),
    title=dict(text="TFTModel - Actual vs Predicted Scatter",
               x=0.5, xref="paper", xanchor="center",
               y=1 - 50 / 1768, yref="container", yanchor="middle",
               font=dict(family=font_name, size=66, color=text_col)),
    annotations=[
        dict(text="<b>Actual Close</b>", xref="paper", yref="paper",
             x=0.5, y=-0.063, xanchor="center", yanchor="middle",
             showarrow=False, font=dict(family=font_name, size=58, color=text_col)),
        dict(text="<b>Predicted Close</b>", xref="paper", yref="paper",
             x=-0.082, y=0.5, xanchor="center", yanchor="middle", textangle=-90,
             showarrow=False, font=dict(family=font_name, size=58, color=text_col)),
    ])

fig.write_html("out.html")
